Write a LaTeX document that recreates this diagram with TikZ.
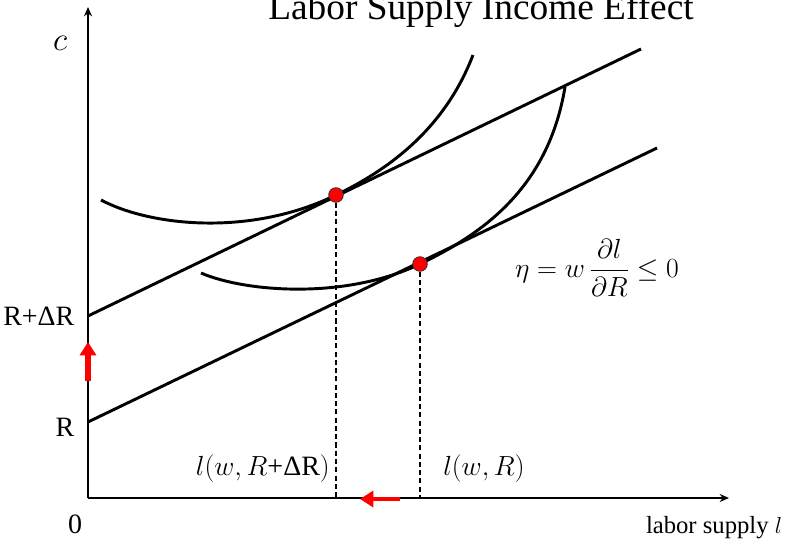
\documentclass[tikz,border=0pt]{standalone}
\usepackage{fontspec}
\setmainfont{Liberation Serif}
\usepackage{amsmath,amssymb}
\usetikzlibrary{arrows.meta,positioning}

\begin{document}
\begin{tikzpicture}[x=0.75pt, y=-0.75pt,
    axis/.style={line width=2.1pt, -{Stealth[length=7pt,width=6pt]}},
    curve/.style={line width=2.2pt},
    guide/.style={line width=1.1pt, dash pattern=on 3.8pt off 2.4pt},
    optimum/.style={circle, fill=red, draw=black!80, line width=0.6pt, inner sep=0pt, minimum size=11pt},
    shiftarrow/.style={red, line width=4.2pt, -{Triangle[length=10pt,width=12pt]}},
    lbl/.style={font=\fontsize{21}{23}\selectfont, inner sep=0pt}]

    \useasboundingbox (0,0) rectangle (787,549);

    % Axes
    \coordinate (O) at (88,498);
    \draw[axis] (O) -- (88,7);
    \draw[axis] (O) -- (729,498);
    \node[lbl] (zero) at (75,524) {0};
    \node[lbl, font=\fontsize{30}{32}\selectfont] (cLab) at (60,43) {$c$};
    \node[lbl, font=\fontsize{18.5}{21}\selectfont] (lLab) at (714,528) {labor supply $l$};

    % Title
    \node[font=\fontsize{28}{30}\selectfont, anchor=base, inner sep=0pt] (title) at (481,20) {Labor Supply Income Effect};

    % Budget lines
    \coordinate (hiStart) at (88,316);
    \coordinate (hiEnd) at (641,49);
    \coordinate (loStart) at (88,422);
    \coordinate (loEnd) at (657,148);
    \draw[curve] (hiStart) -- (hiEnd);
    \draw[curve] (loStart) -- (loEnd);
    \node[lbl, left=10pt of hiStart] (RdR) {R+ΔR};
    \node[lbl, left=10pt of loStart, yshift=-4pt] (R) {R};

    % Indifference curves
    \draw[curve] (101,200) .. controls (150,226) and (250,237) .. (336,195)
        .. controls (390,169) and (445,128) .. (473,55);
    \draw[curve] (201,273) .. controls (245,292) and (345,300) .. (420,264)
        .. controls (480,235) and (548,190) .. (565,87);

    % Optimal points
    \node[optimum] (optU) at (336,195) {};
    \node[optimum] (optL) at (420,264) {};
    \draw[guide] (optU) -- (optU |- O);
    \draw[guide] (optL) -- (optL |- O);
    \node[lbl, anchor=east] (lNew) at (330,469) {$l(w,R\text{+ΔR})$};
    \node[lbl, anchor=west] (lOld) at (443,469) {$l(w,R)$};

    % Elasticity
    \node[lbl] (eta) at (597,268) {$\eta = w\,\dfrac{\partial l}{\partial R} \leq 0$};

    % Shifts
    \draw[shiftarrow] (88,381) -- (88,342);
    \draw[shiftarrow, line width=3.6pt] (400,499) -- (360,499);
\end{tikzpicture}
\end{document}
